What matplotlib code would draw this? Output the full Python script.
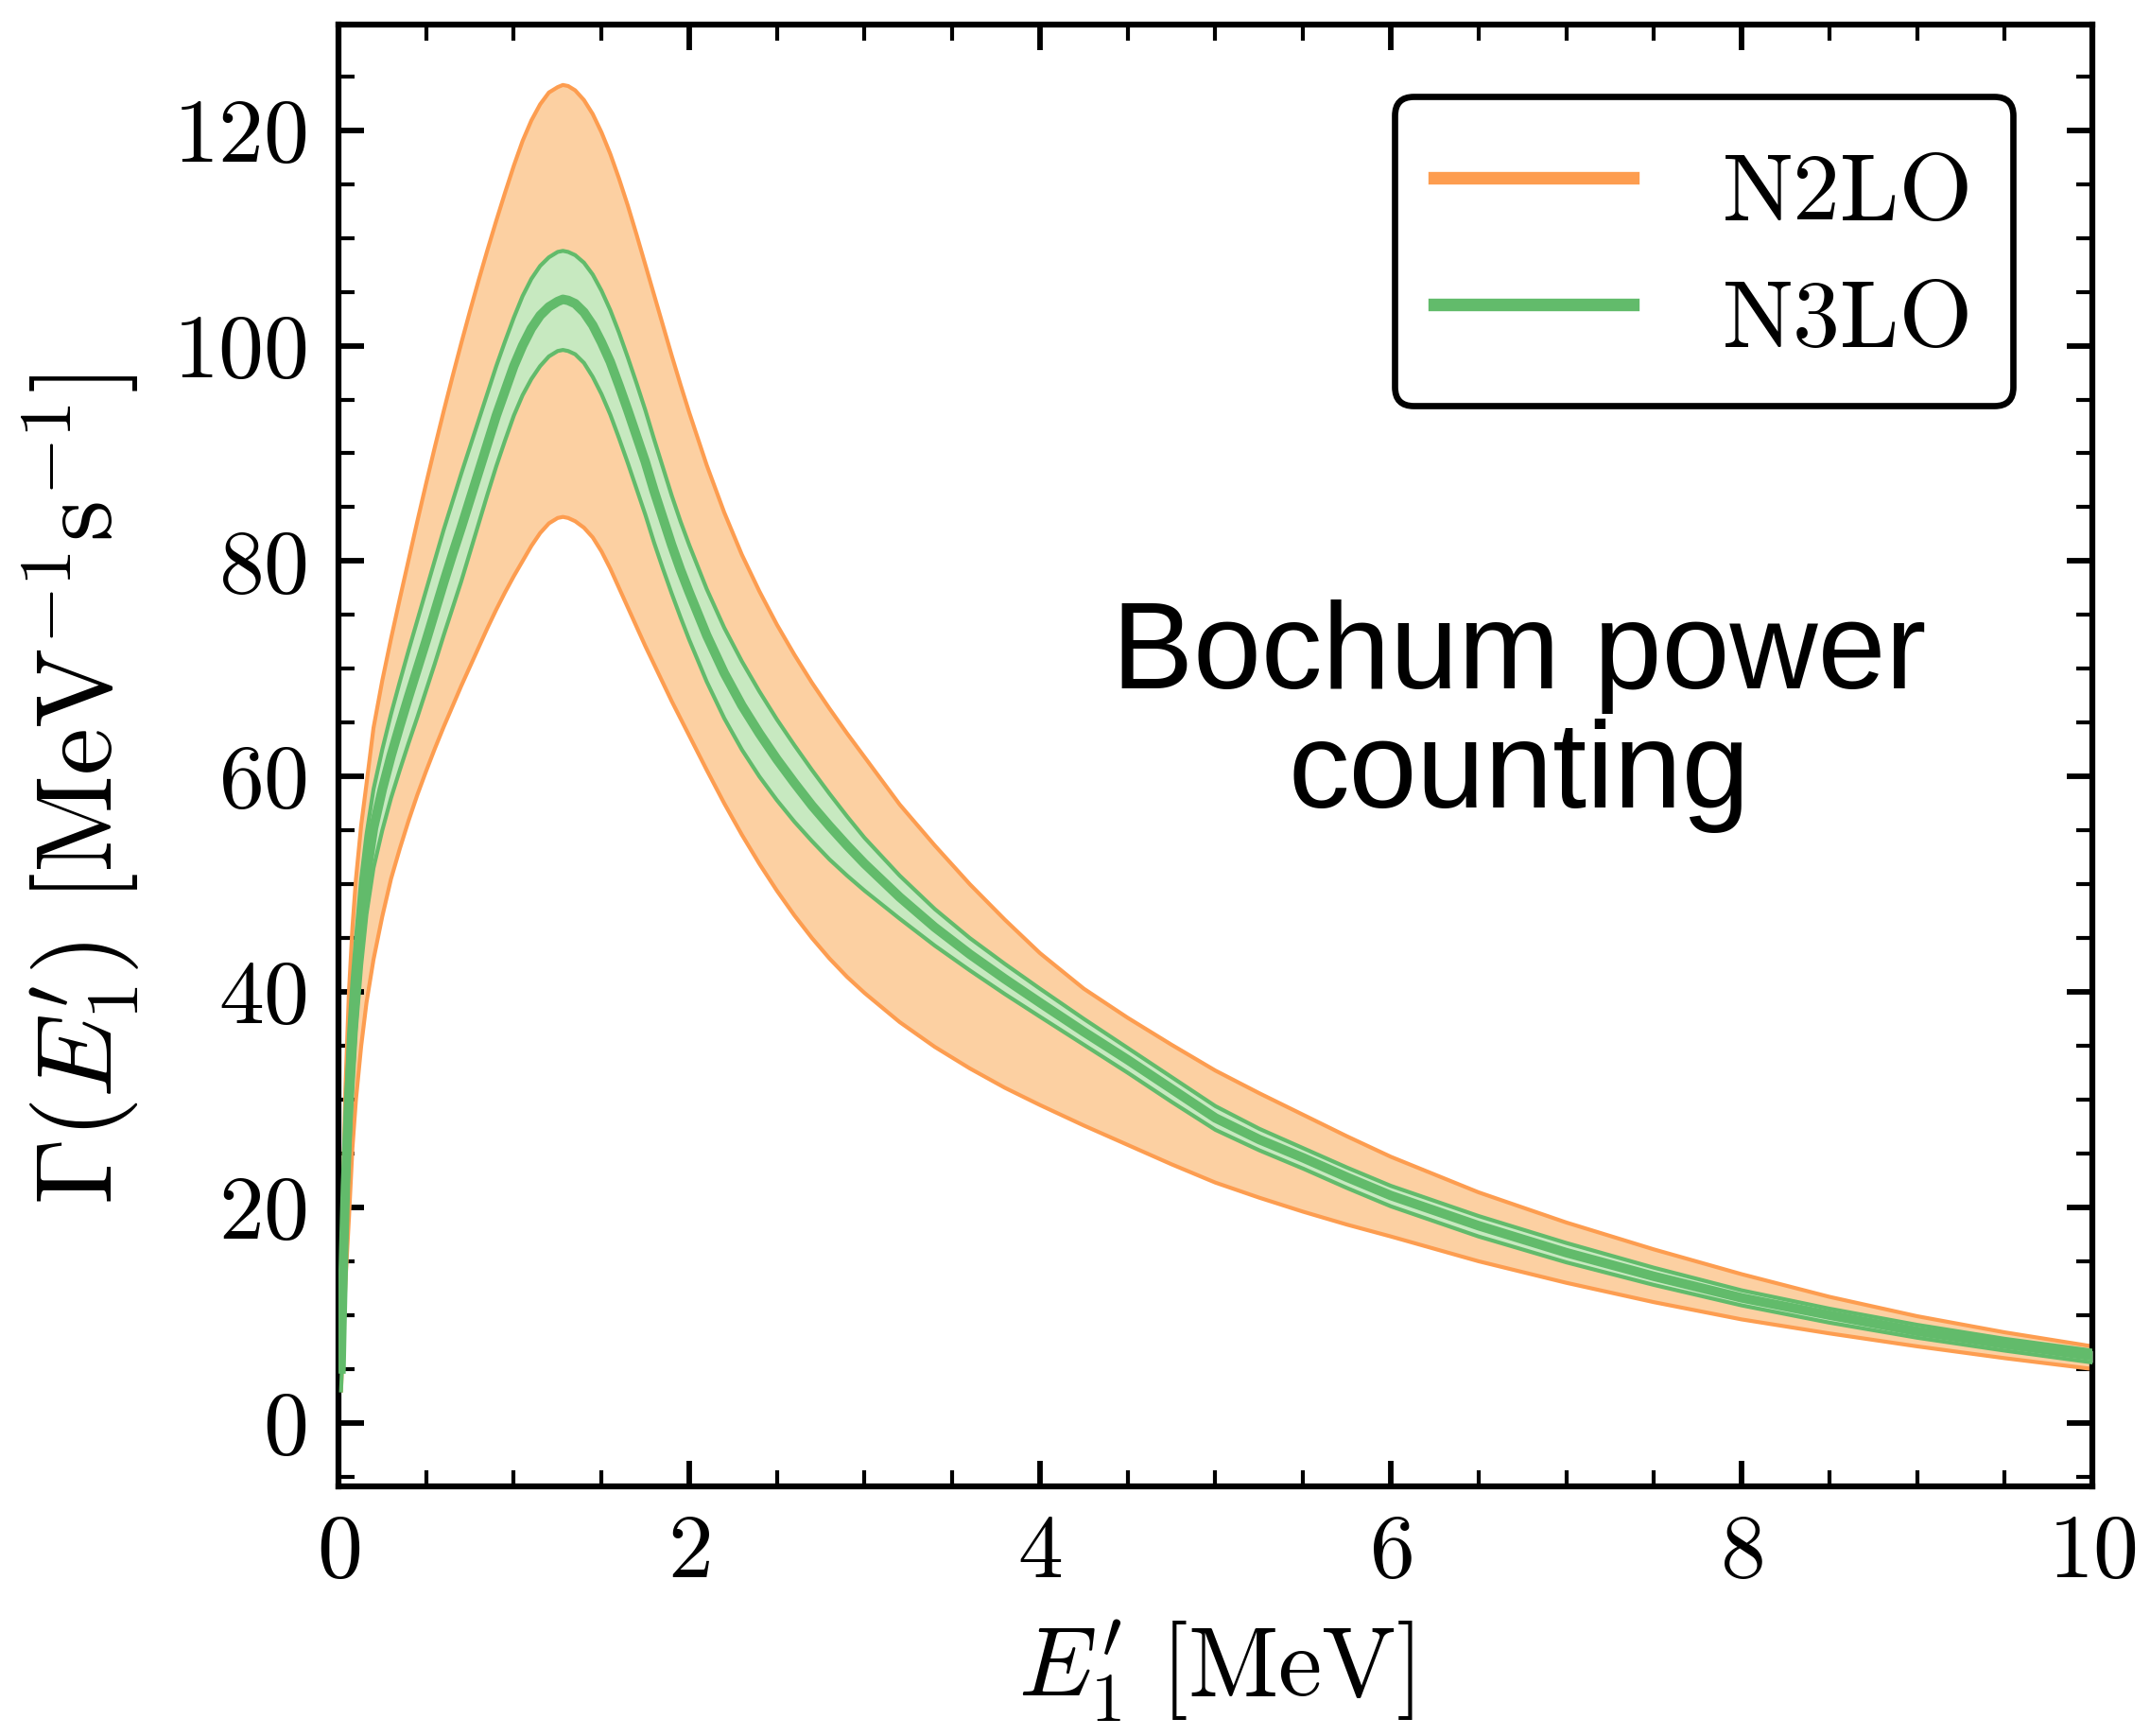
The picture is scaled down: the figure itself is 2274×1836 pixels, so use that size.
import numpy as np
import matplotlib
matplotlib.use("Agg")
import matplotlib.pyplot as plt
from matplotlib.lines import Line2D
from matplotlib.ticker import MultipleLocator

# === DATA ===
energy = [0.015, 0.02, 0.03, 0.04, 0.06, 0.08, 0.10, 0.13, 0.16, 0.20,
          0.25, 0.30, 0.35, 0.40, 0.45, 0.50, 0.55, 0.60, 0.65, 0.70,
          0.75, 0.80, 0.85, 0.90, 0.95, 1.00, 1.05, 1.10, 1.15, 1.20,
          1.25, 1.28, 1.31, 1.35, 1.40, 1.45, 1.50, 1.55, 1.60, 1.65,
          1.70, 1.75, 1.80, 1.85, 1.90, 1.95, 2.00, 2.10, 2.20, 2.30,
          2.40, 2.50, 2.60, 2.70, 2.80, 2.90, 3.00, 3.20, 3.40, 3.60,
          3.80, 4.00, 4.25, 4.50, 4.75, 5.00, 5.25, 5.50, 5.75, 6.00,
          6.50, 7.00, 7.50, 8.00, 8.50, 9.00, 9.50, 10.0]

n2lo_hi = [8, 14, 24, 31, 40, 46, 50.5, 55.5, 59.3, 64.5,
           68.9, 72.8, 76.5, 80.1, 83.7, 87.2, 90.6, 93.9, 97.1, 100.2,
           103.2, 106.1, 108.9, 111.6, 114.2, 116.7, 119.0, 120.9, 122.4, 123.5,
           124.0, 124.2, 124.1, 123.7, 122.8, 121.5, 119.8, 117.8, 115.5, 113.0,
           110.3, 107.5, 104.7, 101.9, 99.1, 96.4, 93.8, 88.9, 84.5, 80.6,
           77.2, 74.1, 71.3, 68.7, 66.3, 64.0, 61.8, 57.4, 53.6, 50.0,
           46.7, 43.6, 40.3, 37.6, 35.1, 32.7, 30.6, 28.6, 26.6, 24.7,
           21.4, 18.6, 16.1, 13.8, 11.7, 9.9, 8.4, 7.1]

n2lo_lo = [3, 5, 9, 13, 19, 25.5, 30, 35, 39, 43,
           47, 50.5, 53.3, 55.9, 58.3, 60.5, 62.6, 64.6, 66.5, 68.4,
           70.2, 72.0, 73.8, 75.5, 77.1, 78.6, 80.0, 81.4, 82.6, 83.5,
           84.0, 84.1, 84.0, 83.7, 83.1, 82.2, 80.9, 79.3, 77.5, 75.7,
           73.9, 72.1, 70.4, 68.7, 67.0, 65.4, 63.8, 60.6, 57.5, 54.6,
           51.9, 49.4, 47.1, 45.0, 43.1, 41.4, 39.9, 37.2, 34.9, 32.9,
           31.1, 29.5, 27.6, 25.8, 24.0, 22.3, 20.9, 19.6, 18.4, 17.3,
           15.0, 13.0, 11.2, 9.6, 8.3, 7.1, 6.0, 5.0]

n3lo_hi = [7, 13, 22, 28, 36, 41, 45, 50.5, 54.6, 58.8,
           62.5, 65.8, 68.8, 71.7, 74.5, 77.3, 80.1, 82.9, 85.5, 88.1,
           90.6, 93.1, 95.6, 98.1, 100.4, 102.6, 104.6, 106.2, 107.4, 108.2,
           108.7, 108.8, 108.7, 108.4, 107.7, 106.6, 105.1, 103.3, 101.2, 98.9,
           96.5, 94.0, 91.3, 88.7, 86.1, 83.7, 81.5, 77.4, 73.8, 70.7,
           67.9, 65.3, 62.9, 60.6, 58.4, 56.3, 54.3, 50.8, 47.7, 45.0,
           42.6, 40.3, 37.5, 34.8, 32.1, 29.4, 27.3, 25.5, 23.7, 22.0,
           19.2, 16.7, 14.4, 12.3, 10.6, 9.1, 7.8, 6.7]

n3lo_lo = [3, 5, 10, 16, 25, 31, 36.5, 42.5, 47.2, 51.5,
           55.0, 58.0, 60.6, 63.1, 65.5, 68.0, 70.5, 73.1, 75.6, 78.1,
           80.8, 83.5, 86.2, 88.8, 91.2, 93.5, 95.4, 96.9, 98.1, 99.0,
           99.5, 99.6, 99.5, 99.2, 98.4, 97.1, 95.5, 93.6, 91.4, 89.1,
           86.7, 84.3, 81.7, 79.3, 77.0, 74.8, 72.7, 68.8, 65.4, 62.5,
           60.0, 57.8, 55.8, 54.0, 52.3, 50.8, 49.4, 46.8, 44.3, 42.0,
           39.8, 37.7, 35.1, 32.5, 29.8, 27.2, 25.3, 23.6, 21.8, 20.1,
           17.3, 14.9, 12.8, 10.9, 9.3, 7.9, 6.7, 5.6]

n3lo_mid = [5, 9, 16, 22, 30.5, 36, 40.5, 46.5, 50.9, 55.2,
            58.8, 61.9, 64.7, 67.4, 70.0, 72.6, 75.3, 78.0, 80.6, 83.1,
            85.7, 88.3, 90.9, 93.5, 95.8, 98.1, 100.0, 101.6, 102.8, 103.6,
            104.1, 104.3, 104.2, 103.9, 103.1, 101.9, 100.3, 98.5, 96.3, 94.0,
            91.6, 89.2, 86.5, 84.0, 81.5, 79.2, 77.1, 73.1, 69.6, 66.6,
            64.0, 61.6, 59.4, 57.3, 55.4, 53.6, 51.9, 48.8, 46.0, 43.5,
            41.2, 39.0, 36.3, 33.7, 31.0, 28.3, 26.3, 24.6, 22.8, 21.1,
            18.3, 15.8, 13.6, 11.6, 10.0, 8.5, 7.3, 6.2]

labels = ["N2LO", "N3LO"]

# === STYLE ===
ORANGE_LINE = "#fd9d50"
ORANGE_FILL = "#fcd0a2"
GREEN_LINE = "#62bb6b"
GREEN_FILL = "#c7e9c0"

plt.rcParams["font.family"] = "serif"
plt.rcParams["font.serif"] = ["cmr10"]
plt.rcParams["mathtext.fontset"] = "cm"
plt.rcParams["axes.formatter.use_mathtext"] = True

fig = plt.figure(figsize=(7.58, 6.12), dpi=300)
ax = fig.add_axes([0.1574, 0.1438, 0.8158, 0.842])

x = np.array(energy)

# N2LO band
ax.fill_between(x, n2lo_lo, n2lo_hi, color=ORANGE_FILL, lw=0, zorder=1)
ax.plot(x, n2lo_hi, color=ORANGE_LINE, lw=1.0, zorder=2)
ax.plot(x, n2lo_lo, color=ORANGE_LINE, lw=1.0, zorder=2)

# N3LO band
ax.fill_between(x, n3lo_lo, n3lo_hi, color=GREEN_FILL, lw=0, zorder=3)
ax.plot(x, n3lo_hi, color=GREEN_LINE, lw=1.0, zorder=4)
ax.plot(x, n3lo_lo, color=GREEN_LINE, lw=1.0, zorder=4)
ax.plot(x, n3lo_mid, color=GREEN_LINE, lw=2.4, zorder=4)

ax.set_xlim(0, 10)
ax.set_ylim(-5.9, 129.8)
ax.xaxis.set_major_locator(MultipleLocator(2))
ax.xaxis.set_minor_locator(MultipleLocator(0.5))
ax.yaxis.set_major_locator(MultipleLocator(20))
ax.yaxis.set_minor_locator(MultipleLocator(5))

ax.tick_params(which="both", direction="in", top=True, right=True, labelsize=23)
ax.tick_params(which="major", length=6.5, width=1.4)
ax.tick_params(which="minor", length=4, width=1.0)
ax.tick_params(axis="x", which="major", pad=7)
ax.tick_params(axis="y", which="major", pad=8)
for s in ax.spines.values():
    s.set_linewidth(1.5)

ax.set_xlabel(r"$E_1^{\prime}\ [\mathrm{MeV}]$", fontsize=25, labelpad=6)
ax.set_ylabel(r"$\Gamma(E_1^{\prime})\ [\mathrm{MeV}^{-1}\mathrm{s}^{-1}]$", fontsize=27, labelpad=8)
ax.yaxis.label.set_y(0.477)

handles = [Line2D([], [], color=ORANGE_LINE, lw=3.2),
           Line2D([], [], color=GREEN_LINE, lw=3.2)]
leg = ax.legend(handles, labels, loc="upper right", bbox_to_anchor=(0.9547, 0.951),
                fontsize=24, frameon=True, fancybox=True, handlelength=2.1,
                handleheight=1.3, handletextpad=0.95, labelspacing=0.25,
                borderpad=0.42, borderaxespad=0.0)
leg.get_frame().set_edgecolor("black")
leg.get_frame().set_linewidth(1.6)
leg.get_frame().set_alpha(1)

ax.text(0.673, 0.527, "Bochum power\ncounting", transform=ax.transAxes,
        ha="center", va="center", fontsize=31, family="Liberation Sans",
        linespacing=1.05)

fig.savefig("out.png", dpi=300)
